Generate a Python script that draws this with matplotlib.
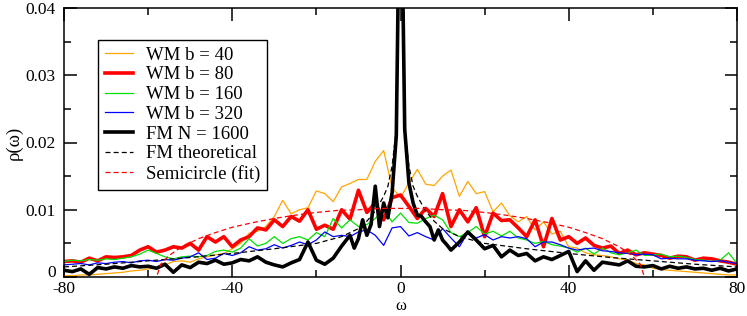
import matplotlib
matplotlib.use("Agg")
import matplotlib.pyplot as plt
import matplotlib.transforms as mtransforms
from matplotlib.ticker import MultipleLocator

plt.rcParams['font.family'] = ['Liberation Serif', 'DejaVu Serif']

# common grid for WM series (omega from -80 to 80, step 2)
omega = list(range(-80, 81, 2))

wm_b40 = [0.0002, 0.0002, 0.0003, 0.0003, 0.0004, 0.0005, 0.0006, 0.0007, 0.0009, 0.0010,
          0.0012, 0.0014, 0.0018, 0.0023, 0.0024, 0.0022, 0.0027, 0.0030, 0.0033, 0.0035,
          0.0042, 0.0050, 0.0065, 0.0068, 0.0075, 0.0090, 0.0114, 0.0094, 0.0100, 0.0103,
          0.0128, 0.0124, 0.0112, 0.0134, 0.0139, 0.0145, 0.0145, 0.0172, 0.0188, 0.0133,
          0.0118,
          0.0140, 0.0160, 0.0138, 0.0136, 0.0150, 0.0159, 0.0120, 0.0142, 0.0124, 0.0127,
          0.0097, 0.0110, 0.0091, 0.0082, 0.0090, 0.0070, 0.0082, 0.0064, 0.0068, 0.0045,
          0.0043, 0.0036, 0.0033, 0.0032, 0.0030, 0.0027, 0.0025, 0.0020, 0.0018, 0.0013,
          0.0011, 0.0010, 0.0009, 0.0008, 0.0007, 0.0006, 0.0005, 0.0004, 0.0003, 0.0003]

wm_b80 = [0.0023, 0.0024, 0.0022, 0.0028, 0.0024, 0.0030, 0.0029, 0.0030, 0.0032, 0.0040,
          0.0045, 0.0037, 0.0040, 0.0045, 0.0043, 0.0050, 0.0040, 0.0060, 0.0052, 0.0060,
          0.0045, 0.0055, 0.0060, 0.0073, 0.0070, 0.0085, 0.0075, 0.0090, 0.0083, 0.0100,
          0.0071, 0.0077, 0.0071, 0.0100, 0.0086, 0.0129, 0.0096, 0.0110, 0.0085, 0.0118,
          0.0122,
          0.0105, 0.0087, 0.0102, 0.0090, 0.0124, 0.0075, 0.0100, 0.0082, 0.0103, 0.0060,
          0.0095, 0.0084, 0.0085, 0.0073, 0.0060, 0.0085, 0.0045, 0.0087, 0.0055, 0.0060,
          0.0050, 0.0058, 0.0047, 0.0043, 0.0046, 0.0035, 0.0040, 0.0033, 0.0036, 0.0034,
          0.0032, 0.0028, 0.0031, 0.0030, 0.0025, 0.0028, 0.0027, 0.0024, 0.0022, 0.0019]

wm_b160 = [0.0023, 0.0025, 0.0024, 0.0026, 0.0025, 0.0027, 0.0026, 0.0028, 0.0030, 0.0034,
           0.0040, 0.0035, 0.0030, 0.0027, 0.0030, 0.0031, 0.0030, 0.0032, 0.0038, 0.0040,
           0.0037, 0.0043, 0.0057, 0.0046, 0.0050, 0.0060, 0.0050, 0.0057, 0.0060, 0.0055,
           0.0066, 0.0060, 0.0087, 0.0073, 0.0085, 0.0075, 0.0078, 0.0087, 0.0100, 0.0082,
           0.0095,
           0.0081, 0.0080, 0.0087, 0.0092, 0.0085, 0.0066, 0.0060, 0.0066, 0.0075, 0.0064,
           0.0068, 0.0061, 0.0068, 0.0058, 0.0055, 0.0050, 0.0053, 0.0048, 0.0046, 0.0043,
           0.0037, 0.0043, 0.0034, 0.0043, 0.0036, 0.0033, 0.0036, 0.0040, 0.0032, 0.0033,
           0.0034, 0.0030, 0.0031, 0.0029, 0.0026, 0.0025, 0.0023, 0.0025, 0.0036, 0.0020]

wm_b320 = [0.0018, 0.0019, 0.0020, 0.0018, 0.0021, 0.0020, 0.0022, 0.0023, 0.0021, 0.0024,
           0.0025, 0.0023, 0.0026, 0.0025, 0.0028, 0.0030, 0.0036, 0.0026, 0.0028, 0.0035,
           0.0032, 0.0036, 0.0045, 0.0040, 0.0042, 0.0048, 0.0043, 0.0047, 0.0052, 0.0048,
           0.0055, 0.0067, 0.0060, 0.0062, 0.0060, 0.0067, 0.0070, 0.0062, 0.0047, 0.0073,
           0.0075,
           0.0061, 0.0066, 0.0060, 0.0055, 0.0072, 0.0058, 0.0045, 0.0066, 0.0058, 0.0063,
           0.0055, 0.0060, 0.0058, 0.0060, 0.0057, 0.0045, 0.0052, 0.0052, 0.0048, 0.0043,
           0.0040, 0.0042, 0.0043, 0.0039, 0.0038, 0.0036, 0.0035, 0.0033, 0.0034, 0.0033,
           0.0027, 0.0028, 0.0027, 0.0027, 0.0025, 0.0024, 0.0023, 0.0024, 0.0022, 0.0020]

# FM N = 1600 (finer sampling near the central peak)
fm_omega = [-80, -78, -76, -74, -72, -70, -68, -66, -64, -62, -60, -58, -56, -54, -52, -50,
            -48, -46, -44, -42, -40, -38, -36, -34, -32, -30, -28, -26, -24, -22, -20, -18,
            -16, -14, -12, -11, -10, -9, -8, -7, -6, -5, -4, -3, -2, -1, -0.5, 0, 0.5, 1,
            2, 3, 4, 5, 6, 7, 8, 9, 10, 11, 12, 14, 16, 18, 20, 22, 24, 26, 28, 30, 32, 34,
            36, 38, 40, 42, 44, 46, 48, 50, 52, 54, 56, 58, 60, 62, 64, 66, 68, 70, 72, 74,
            76, 78, 80]
fm_1600 = [0.0010, 0.0008, 0.0012, 0.0004, 0.0014, 0.0012, 0.0015, 0.0013, 0.0017, 0.0015,
           0.0016, 0.0013, 0.0019, 0.0007, 0.0018, 0.0014, 0.0022, 0.0020, 0.0025, 0.0019,
           0.0021, 0.0026, 0.0024, 0.0030, 0.0022, 0.0018, 0.0015, 0.0021, 0.0026, 0.0052,
           0.0025, 0.0019, 0.0028, 0.0046, 0.0062, 0.0043, 0.0057, 0.0085, 0.0062, 0.0078,
           0.0135, 0.0075, 0.0110, 0.0088, 0.0125, 0.0210, 0.0450, 0.2000, 0.0450, 0.0220,
           0.0140, 0.0110, 0.0092, 0.0090, 0.0082, 0.0075, 0.0055, 0.0070, 0.0055, 0.0048,
           0.0040, 0.0052, 0.0067, 0.0055, 0.0042, 0.0047, 0.0030, 0.0040, 0.0032, 0.0035,
           0.0024, 0.0030, 0.0026, 0.0032, 0.0038, 0.0008, 0.0024, 0.0010, 0.0022, 0.0020,
           0.0018, 0.0024, 0.0016, 0.0015, 0.0017, 0.0012, 0.0016, 0.0013, 0.0015, 0.0012,
           0.0013, 0.0010, 0.0013, 0.0009, 0.0012]

# FM theoretical (smooth curve)
fm_th_omega = [-80, -70, -60, -50, -40, -30, -20, -14, -10, -8, -6, -4, -3, -2, -1, -0.5, 0,
               0.5, 1, 2, 3, 4, 6, 8, 10, 14, 20, 30, 40, 50, 60, 70, 80]
fm_th = [0.0015, 0.0019, 0.0024, 0.0029, 0.0035, 0.0042, 0.0050, 0.0060, 0.0072, 0.0083,
         0.0098, 0.0120, 0.0135, 0.0165, 0.0220, 0.0450, 0.3000,
         0.0450, 0.0220, 0.0165, 0.0135, 0.0120, 0.0098, 0.0083, 0.0072, 0.0060, 0.0050,
         0.0042, 0.0035, 0.0029, 0.0024, 0.0019, 0.0015]

# Semicircle fit
sc_omega = [-60, -58, -57, -55, -52, -48, -44, -40, -35, -30, -25, -20, -15, -10, -5, 0,
            5, 10, 15, 20, 25, 30, 35, 40, 44, 48, 52, 55, 57, 58, 60]
sc_rho = [-0.0030, 0.0, 0.0019, 0.0032, 0.0045, 0.0057, 0.0066, 0.0074, 0.0081, 0.0087,
          0.0092, 0.0096, 0.0099, 0.0100, 0.0102, 0.0102,
          0.0102, 0.0100, 0.0099, 0.0096, 0.0092, 0.0087, 0.0081, 0.0074, 0.0066, 0.0057,
          0.0045, 0.0032, 0.0019, 0.0, -0.0030]

labels = ["WM b = 40", "WM b = 80", "WM b = 160", "WM b = 320", "FM N = 1600",
          "FM theoretical", "Semicircle (fit)"]
x_ticks = [-80, -40, 0, 40, 80]
x_ticklabels = ["-80", "-40", "0", "40", "80"]
y_ticks = [0, 0.01, 0.02, 0.03, 0.04]
y_ticklabels = ["0", "0.01", "0.02", "0.03", "0.04"]

fig = plt.figure(figsize=(7.47, 3.16), dpi=100)
ax_left, ax_bottom = 64 / 747, 1 - 277 / 316
ax_w, ax_h = 673 / 747, 269 / 316
ax = fig.add_axes([ax_left, ax_bottom, ax_w, ax_h])

ax.plot(omega, wm_b40, color='#ffa500', lw=0.9, label=labels[0])
ax.plot(omega, wm_b80, color='#ff0000', lw=2.6, label=labels[1])
ax.plot(omega, wm_b160, color='#00e000', lw=0.9, label=labels[2])
ax.plot(omega, wm_b320, color='#0000ff', lw=0.9, label=labels[3])
ax.plot(fm_omega, fm_1600, color='black', lw=2.6, label=labels[4])
ax.plot(fm_th_omega, fm_th, color='black', lw=0.9, ls=(0, (4, 2.5)), label=labels[5])
ax.plot(sc_omega, sc_rho, color='#ff0000', lw=0.9, ls=(0, (4, 2.5)), label=labels[6])

ax.set_xlim(-80, 80)
ax.set_ylim(0, 0.04)
ax.set_xticks(x_ticks)
ax.set_xticklabels(x_ticklabels)
ax.set_yticks(y_ticks)
ax.set_yticklabels(y_ticklabels)
ax.xaxis.set_minor_locator(MultipleLocator(20))
ax.yaxis.set_minor_locator(MultipleLocator(0.005))
ax.tick_params(which='both', direction='in', top=True, right=True, width=1.1,
               labelsize=12.5)
ax.tick_params(which='major', length=9)
ax.tick_params(which='minor', length=5)
ax.tick_params(axis='x', which='major', pad=3)
ax.tick_params(axis='y', which='major', pad=6)
for s in ax.spines.values():
    s.set_linewidth(1.1)

# lift the lowest y tick label slightly so it does not touch the "-80" label
zero_lbl = ax.get_yticklabels()[0]
zero_lbl.set_transform(zero_lbl.get_transform() +
                       mtransforms.ScaledTranslation(0, 4 / 72, fig.dpi_scale_trans))

# x-axis label placed just above the bottom edge of the figure
fig.text(ax_left + ax_w / 2, 1.5 / 316, "ω", ha='center', va='bottom', fontsize=12)
ax.set_ylabel("ρ(ω)", fontsize=13.5, labelpad=2)

leg = ax.legend(loc='upper left', bbox_to_anchor=(34 / 673, (277 - 40) / 269),
                borderaxespad=0, fontsize=13.5, frameon=True, fancybox=False,
                framealpha=1, edgecolor='black', handlelength=1.5, handletextpad=0.7,
                labelspacing=0.14, borderpad=0.35)
leg.get_frame().set_linewidth(1.0)

fig.savefig("out.png", dpi=100)
